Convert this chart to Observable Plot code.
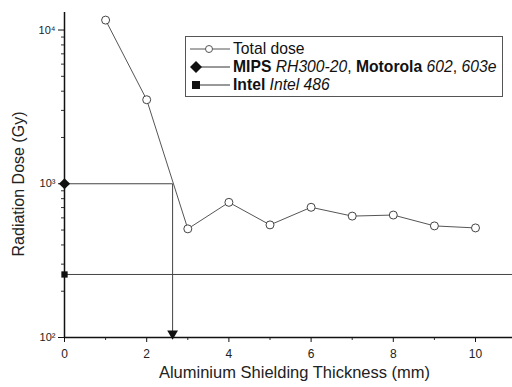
<!DOCTYPE html>
<html><head><meta charset="utf-8">
<script src="https://cdn.jsdelivr.net/npm/d3@7"></script>
<script src="https://cdn.jsdelivr.net/npm/@observablehq/plot@0.6"></script>
<style>
body{margin:0;background:#fff;font-family:"Liberation Sans",Arial,sans-serif;}
#wrap{position:relative;width:512px;height:387px;}
#legend{position:absolute;left:185px;top:36px;width:318px;height:61px;border:1px solid #555;background:#fff;font-size:15.7px;color:#111;box-sizing:border-box;}
#legend .row{position:absolute;left:4px;height:18px;line-height:18px;white-space:nowrap;}
#legend svg{vertical-align:-1px;margin-right:3px;}
</style></head><body>
<div id="wrap"></div>
<script>
const thickness = [1,2,3,4,5,6,7,8,9,10];
const totalDose = [11600,3520,509,757,540,703,616,626,532,516];
const mipsX = [0, 2.63, 2.63];
const mipsY = [1000, 1000, 100];
const intelX = [0, 10.9];
const intelY = [257, 257];
const yMajor = [100,1000,10000];
const yMajorLabels = ["10²","10³","10⁴"];
const yMinor = [200,300,400,500,600,700,800,900,2000,3000,4000,5000,6000,7000,8000,9000];
const xMajor = [0,2,4,6,8,10];
const xMinor = [1,3,5,7,9];

const total = thickness.map((x,i)=>({x, y: totalDose[i]}));
const mips = mipsX.map((x,i)=>({x, y: mipsY[i]}));
const intel = intelX.map((x,i)=>({x, y: intelY[i]}));

const chart = Plot.plot({
  width: 512, height: 387,
  marginLeft: 64, marginRight: 0, marginTop: 12, marginBottom: 50,
  style: {fontFamily: "Liberation Sans, Arial, sans-serif", fontSize: "10px", color: "#222"},
  x: {domain: [0, 10.9]},
  y: {type: "log", domain: [100, 13000]},
  marks: [
    Plot.axisY({ticks: yMajor, tickFormat: d => yMajorLabels[yMajor.indexOf(d)], tickSize: 6, tickPadding: 3, fontSize: 11, stroke: "#111", label: null}),
    Plot.axisY({ticks: yMinor, tickFormat: () => "", tickSize: 3, stroke: "#333", label: null}),
    Plot.axisX({ticks: xMajor, tickSize: 5, tickPadding: 7, fontSize: 12, stroke: "#111", label: null}),
    Plot.axisX({ticks: xMinor, tickFormat: () => "", tickSize: 3, stroke: "#333", label: null}),
    Plot.ruleX([0], {stroke: "#111", strokeWidth: 1.5}),
    Plot.ruleY([100], {stroke: "#111", strokeWidth: 1.5}),
    Plot.line(intel, {x: "x", y: "y", stroke: "#444", strokeWidth: 1}),
    Plot.line(mips, {x: "x", y: "y", stroke: "#444", strokeWidth: 1}),
    Plot.dot([mips[2]], {x: "x", y: "y", symbol: "triangle", r: 4, fill: "#111", rotate: 180, dy: -4}),
    Plot.line(total, {x: "x", y: "y", stroke: "#555", strokeWidth: 1}),
    Plot.dot(total, {x: "x", y: "y", r: 4, fill: "#fff", stroke: "#444", strokeWidth: 1}),
    Plot.dot([mips[0]], {x: "x", y: "y", symbol: "diamond2", r: 5, fill: "#111"}),
    Plot.dot([intel[0]], {x: "x", y: "y", symbol: "square2", r: 4, fill: "#111"}),
    Plot.text(["Aluminium Shielding Thickness (mm)"], {frameAnchor: "bottom", textAnchor: "middle", dx: 6, dy: 40, fontSize: 16.5, fill: "#222"}),
    Plot.text(["Radiation Dose (Gy)"], {frameAnchor: "left", textAnchor: "middle", dx: -46, dy: 9, rotate: -90, fontSize: 16, fill: "#222"})
  ]
});
const wrap = document.getElementById("wrap");
wrap.appendChild(chart);

const legend = document.createElement("div");
legend.id = "legend";
legend.innerHTML = `
<div class="row" style="top:3px"><svg width="40" height="12"><line x1="0" y1="6" x2="40" y2="6" stroke="#555"/><circle cx="19" cy="6" r="3.5" fill="#fff" stroke="#555"/></svg>Total dose</div>
<div class="row" style="top:21px"><svg width="40" height="12"><line x1="4" y1="6" x2="40" y2="6" stroke="#333"/><path d="M6,0L12,6L6,12L0,6Z" fill="#111"/></svg><b>MIPS</b> <i>RH300-20</i>, <b>Motorola</b> <i>602</i>, <i>603e</i></div>
<div class="row" style="top:39px"><svg width="40" height="12"><line x1="4" y1="6" x2="40" y2="6" stroke="#333"/><rect x="2" y="2" width="8" height="8" fill="#111"/></svg><b>Intel</b> <i>Intel 486</i></div>`;
wrap.appendChild(legend);
</script>
</body></html>
